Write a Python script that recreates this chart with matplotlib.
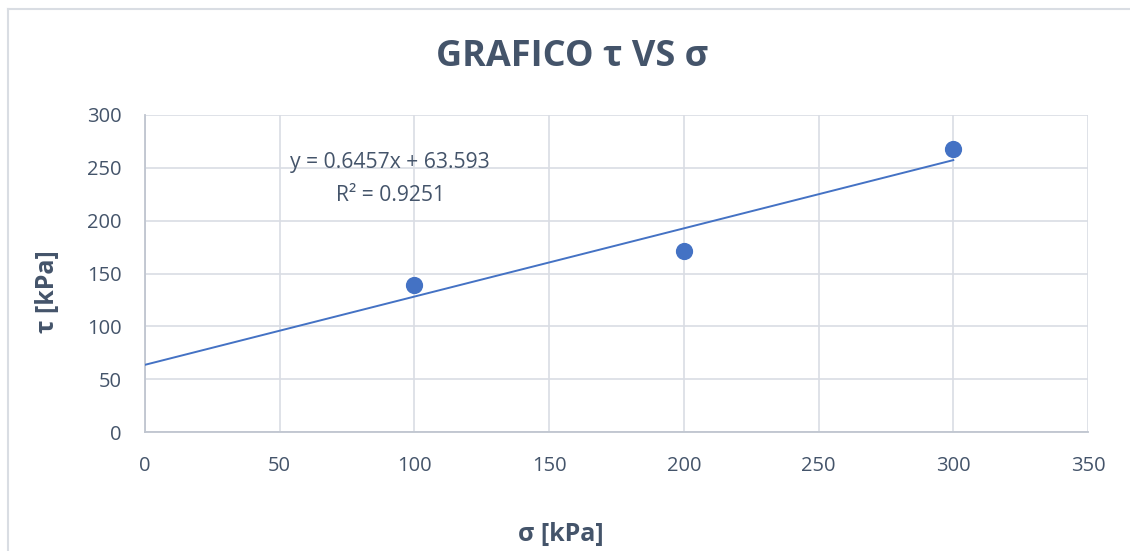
import numpy as np
import matplotlib.pyplot as plt
from matplotlib.lines import Line2D

# Direct shear results
sigma = [100, 200, 300]          # normal stress [kPa]
tau = [138.77, 171.52, 267.91]   # shear stress [kPa]

x_ticks = [0, 50, 100, 150, 200, 250, 300, 350]
y_ticks = [0, 50, 100, 150, 200, 250, 300]

title = "GRAFICO τ VS σ"
x_label = "σ [kPa]"
y_label = "τ [kPa]"

text_color = "#44546A"
grid_color = "#D9DDE4"
axis_color = "#BFC5CF"
blue = "#4472C4"
font = ["Open Sans", "DejaVu Sans"]

# Linear fit and coefficient of determination
slope, intercept = np.polyfit(sigma, tau, 1)
pred = slope * np.array(sigma) + intercept
ss_res = np.sum((np.array(tau) - pred) ** 2)
ss_tot = np.sum((np.array(tau) - np.mean(tau)) ** 2)
r2 = 1 - ss_res / ss_tot

W, H = 1130, 551
fig = plt.figure(figsize=(W / 100, H / 100), dpi=100)
fig.patch.set_facecolor("white")

# Chart frame (top and left edges)
fig.add_artist(Line2D([8 / W, 1.0], [1 - 9 / H, 1 - 9 / H], color="#D9DDE3", lw=1.5))
fig.add_artist(Line2D([8 / W, 8 / W], [0, 1 - 9 / H], color="#D9DDE3", lw=1.5))

left, right, top, bottom = 145, 1088, 115, 432
ax = fig.add_axes([left / W, 1 - bottom / H, (right - left) / W, (bottom - top) / H])
ax.set_xlim(0, 350)
ax.set_ylim(0, 300)
ax.set_xticks(x_ticks)
ax.set_yticks(y_ticks)
ax.grid(True, color=grid_color, lw=1.2)
ax.set_axisbelow(True)
for s in ["top", "right"]:
    ax.spines[s].set_visible(False)
for s in ["left", "bottom"]:
    ax.spines[s].set_color(axis_color)
    ax.spines[s].set_linewidth(1.3)
ax.tick_params(length=0, labelsize=14.5, labelcolor=text_color)
ax.tick_params(axis="x", pad=17)
ax.tick_params(axis="y", pad=17)
for lbl in ax.get_xticklabels() + ax.get_yticklabels():
    lbl.set_family(font)

# Trendline over the data span starting at zero
xs = np.array([0, max(sigma)])
ax.plot(xs, slope * xs + intercept, color=blue, lw=1.4, zorder=3)
ax.scatter(sigma, tau, s=130, color=blue, edgecolor=blue, zorder=4)

ax.text(91, 239.5, f"y = {slope:.4f}x + {intercept:.3f}\nR² = {r2:.4f}",
        ha="center", va="center", fontsize=15.2, color=text_color,
        family=font, linespacing=1.75)

fig.text(572 / W, 1 - 57 / H, title, ha="center", va="center",
         fontsize=26, fontweight="bold", color=text_color, family=font)
fig.text(561 / W, 1 - 534 / H, x_label, ha="center", va="center",
         fontsize=18, fontweight="bold", color=text_color, family=font)
fig.text(47 / W, 1 - 292 / H, y_label, ha="center", va="center", rotation=90,
         fontsize=18, fontweight="bold", color=text_color, family=font)

fig.savefig("out.png", dpi=100)
